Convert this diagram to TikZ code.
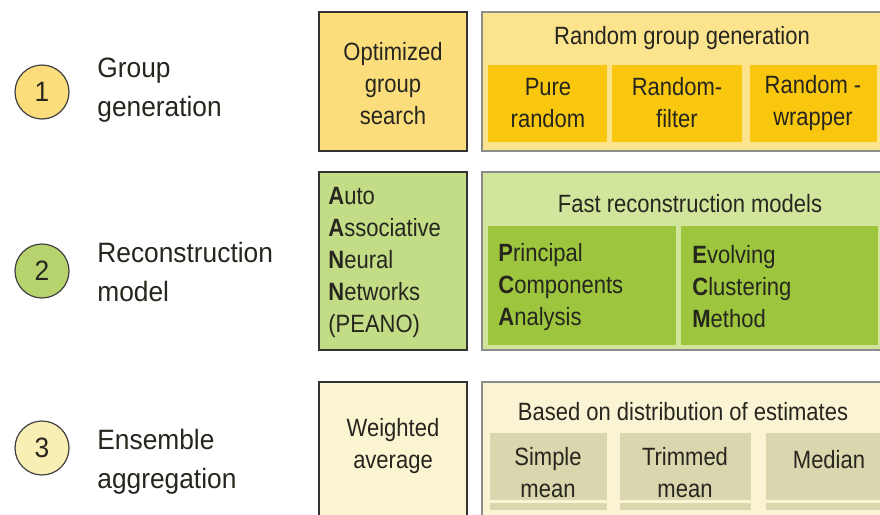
\documentclass[tikz,border=0pt]{standalone}
\usepackage{fontspec}
\setmainfont{Liberation Sans}
\newfontfamily\lblfont{Liberation Sans}[FakeStretch=0.94]
\newfontfamily\boxfont{Liberation Sans}[FakeStretch=0.88]
\definecolor{txtdark}{HTML}{26261F}
\definecolor{goldleft}{HTML}{FCDD7C}
\definecolor{goldouter}{HTML}{FCE48E}
\definecolor{goldinner}{HTML}{F9C80E}
\definecolor{greenleft}{HTML}{C3DC86}
\definecolor{greendot}{HTML}{B6D36E}
\definecolor{greenouter}{HTML}{D1E69C}
\definecolor{greeninner}{HTML}{9DC63E}
\definecolor{creamleft}{HTML}{FBF5D2}
\definecolor{creamdot}{HTML}{F9EFB5}
\definecolor{creamouter}{HTML}{FAF4D4}
\definecolor{creaminner}{HTML}{DAD6AE}
\tikzstyle{stepdot}=[circle,draw=black!75,line width=0.6pt,inner sep=0pt,
                     minimum size=27pt,text=txtdark,
                     font=\lblfont\fontsize{14pt}{17pt}\selectfont]
\tikzstyle{steplbl}=[anchor=west,align=left,inner sep=0pt,text=txtdark,
                     font=\lblfont\fontsize{14pt}{19.5pt}\selectfont]
\tikzstyle{boxtxt}=[align=center,inner sep=0pt,text=txtdark,
                    font=\boxfont\fontsize{12.5pt}{16pt}\selectfont]
\tikzstyle{boxtxtl}=[boxtxt,align=left,anchor=west]
\tikzstyle{mainbox}=[draw=black!80,line width=0.75pt]
\tikzstyle{outerbox}=[draw=black!45,line width=0.6pt]

\begin{document}
\begin{tikzpicture}[x=0.5pt,y=-0.5pt]
    \useasboundingbox (0,0) rectangle (880,515);
    \clip (0,0) rectangle (880,515);
    \fill[white] (0,0) rectangle (880,515);

    \node (num1) at (42, 92) [stepdot,fill=goldleft]{1};
    \node (num2) at (42,271) [stepdot,fill=greendot]{2};
    \node (num3) at (42,448) [stepdot,fill=creamdot]{3};
    \node (lbl1) at (97, 90) [steplbl]{Group\\generation};
    \node (lbl2) at (97,272) [steplbl]{Reconstruction\\model};
    \node (lbl3) at (97,462) [steplbl]{Ensemble\\aggregation};

    \filldraw[mainbox,fill=goldleft] (319,12) rectangle (467,151);
    \filldraw[outerbox,fill=goldouter] (482,12) rectangle (895,151);
    \fill[goldinner] (488,65) rectangle (607,142);
    \fill[goldinner] (612,65) rectangle (742,142);
    \fill[goldinner] (750,65) rectangle (877,142);
    \node (optsearch) at (393, 84) [boxtxt]{Optimized\\group\\search};
    \node (randgen)   at (682, 38) [boxtxt]{Random group generation};
    \node (pure)      at (548,103) [boxtxt]{Pure\\random};
    \node (rfilter)   at (677,103) [boxtxt]{Random-\\filter};
    \node (rwrapper)  at (813,103) [boxtxt]{Random -\\wrapper};

    \filldraw[mainbox,fill=greenleft] (319,172) rectangle (467,350);
    \filldraw[outerbox,fill=greenouter] (482,172) rectangle (895,350);
    \fill[greeninner] (488,226) rectangle (676,345);
    \fill[greeninner] (681,226) rectangle (878,345);
    \node (aann)    at (328,262) [boxtxtl]{{\bfseries A}uto\\{\bfseries A}ssociative\\
                                           {\bfseries N}eural\\{\bfseries N}etworks\\(PEANO)};
    \node (fastrec) at (690,204) [boxtxt]{Fast reconstruction models};
    \node (pca)     at (498,287) [boxtxtl]{{\bfseries P}rincipal\\{\bfseries C}omponents\\
                                           {\bfseries A}nalysis};
    \node (ecm)     at (692,287) [boxtxtl]{{\bfseries E}volving\\{\bfseries C}lustering\\
                                           {\bfseries M}ethod};

    \filldraw[mainbox,fill=creamleft] (319,382) rectangle (467,540);
    \filldraw[outerbox,fill=creamouter] (482,382) rectangle (895,540);
    \fill[creaminner] (490,433) rectangle (607,500);
    \fill[creaminner] (620,433) rectangle (751,500);
    \fill[creaminner] (766,433) rectangle (895,500);
    \fill[creaminner] (490,503) rectangle (607,510);
    \fill[creaminner] (620,503) rectangle (751,510);
    \fill[creaminner] (766,503) rectangle (895,510);
    \node (wavg)    at (393,446) [boxtxt]{Weighted\\average};
    \node (distest) at (683,412) [boxtxt]{Based on distribution of estimates};
    \node (smean)   at (548,473) [boxtxt]{Simple\\mean};
    \node (tmean)   at (685,473) [boxtxt]{Trimmed\\mean};
    \node (median)  at (829,460) [boxtxt]{Median};
\end{tikzpicture}
\end{document}
